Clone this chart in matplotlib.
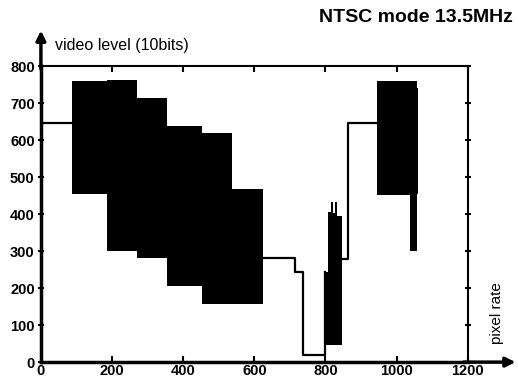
import matplotlib as mpl
mpl.use('Agg')
import matplotlib.pyplot as plt

plt.rcParams['font.family'] = ['Liberation Sans', 'DejaVu Sans']

# colour bar block: segment edges (pixels) and envelope levels (10-bit)
bar_edges = [88, 185, 270, 355, 452, 537, 625]
bar_top = [760, 762, 715, 638, 620, 468]
bar_bottom = [455, 300, 282, 205, 158, 158]

# burst inside the sync area
mid_edges = [798, 808, 815, 821, 827, 833, 846]
mid_top = [243, 405, 432, 402, 432, 395]
mid_bottom = [45, 45, 45, 45, 45, 45]

# burst after the back porch
end_edges = [944, 1037, 1056, 1059]
end_top = [760, 760, 740]
end_bottom = [452, 300, 455]

# plain step parts of the line
line1_x = [0, 88]
line1_y = [645, 645]
line2_x = [625, 714, 714, 736, 736, 800, 800]
line2_y = [282, 282, 243, 243, 18, 18, 243]
line3_x = [846, 863, 863, 944]
line3_y = [280, 280, 645, 645]

x_ticks = [0, 200, 400, 600, 800, 1000, 1200]
y_ticks = [0, 100, 200, 300, 400, 500, 600, 700, 800]


def burst(ax, edges, top, bottom):
    ax.fill_between(edges, top + top[-1:], bottom + bottom[-1:],
                    step='post', color='black', lw=0)


fig = plt.figure(figsize=(5.18, 3.82), dpi=100)
ax = fig.add_axes([0.079, 0.052, 0.824, 0.775])

burst(ax, bar_edges, bar_top, bar_bottom)
burst(ax, mid_edges, mid_top, mid_bottom)
burst(ax, end_edges, end_top, end_bottom)
for xs, ys in [(line1_x, line1_y), (line2_x, line2_y), (line3_x, line3_y)]:
    ax.plot(xs, ys, color='black', lw=1.6)

ax.set_xlim(0, 1200)
ax.set_ylim(0, 800)
ax.set_xticks(x_ticks)
ax.set_yticks(y_ticks)
ax.tick_params(axis='x', direction='in', length=4, width=1.5, top=True,
               labelsize=10.5, pad=1)
ax.tick_params(axis='y', direction='inout', length=5, width=1.5, right=True,
               labelsize=10.5, pad=2)
for lab in ax.get_xticklabels() + ax.get_yticklabels():
    lab.set_fontweight('bold')

ax.spines['left'].set_linewidth(2.5)
ax.spines['bottom'].set_linewidth(2.5)
ax.spines['top'].set_linewidth(1.5)
ax.spines['right'].set_linewidth(1.5)

# axis arrows
ax.annotate('', xy=(0, 1.12), xytext=(0, 0.99), xycoords='axes fraction',
            arrowprops=dict(arrowstyle='-|>', lw=2.5, color='black',
                            mutation_scale=14, shrinkA=0, shrinkB=0))
ax.annotate('', xy=(1.112, 0), xytext=(0.99, 0), xycoords='axes fraction',
            arrowprops=dict(arrowstyle='-|>', lw=2.5, color='black',
                            mutation_scale=14, shrinkA=0, shrinkB=0))

ax.text(0.033, 1.071, 'video level (10bits)', transform=ax.transAxes,
        ha='left', va='center', fontsize=11.5)
fig.text(0.99, 0.953, 'NTSC mode 13.5MHz', ha='right', va='center',
         fontsize=14, fontweight='bold')
fig.text(0.959, 0.181, 'pixel rate', ha='center', va='center',
         rotation=90, fontsize=11)

plt.savefig('out.png', dpi=100)
